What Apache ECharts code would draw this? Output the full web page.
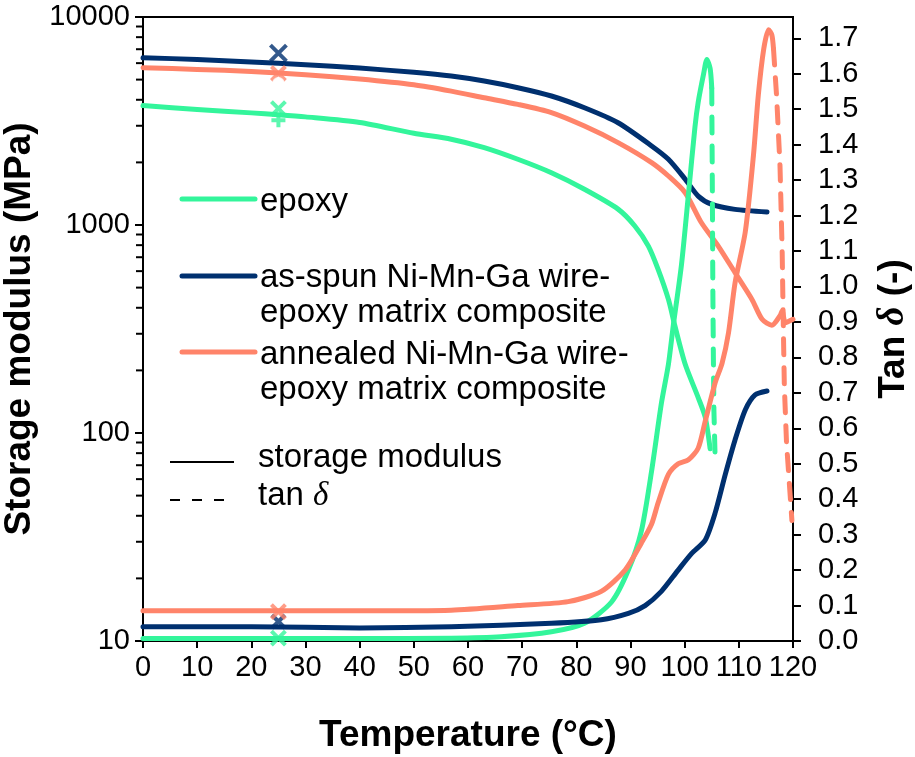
<!DOCTYPE html>
<html>
<head>
<meta charset="utf-8">
<script src="https://cdn.jsdelivr.net/npm/echarts@6/dist/echarts.min.js"></script>
<style>
  html, body { margin: 0; padding: 0; background: #fff; }
  #main { width: 915px; height: 757px; }
</style>
</head>
<body>
<div id="main"></div>
<script>
// storage modulus (MPa) vs temperature (°C)
var epoxyModulus = [[0,3750],[10,3590],[20,3460],[25,3390],[30,3310],[40,3110],[50,2760],[56.9,2585],[63,2355],[69.2,2070],[75.4,1783],[81.5,1485],[87.7,1192],[90.8,989],[93.3,792],[95.1,612],[97,439],[98.2,327],[100.1,214],[102.5,148],[103.8,119],[104.7,84]];
var asSpunModulus = [[0,6370],[10,6250],[20,6080],[30,5900],[40,5680],[50,5420],[56.9,5200],[63,4920],[69.2,4570],[75.4,4170],[81.5,3660],[87.7,3100],[93.9,2400],[97,2070],[100.1,1660],[102.5,1377],[105,1256],[109.3,1189],[115.2,1155]];
var annealedModulus = [[0,5700],[10,5600],[20,5470],[30,5280],[40,5030],[50,4720],[56.9,4400],[63,4090],[69.2,3800],[75.4,3470],[81.5,2990],[87.7,2490],[93.9,1995],[97,1720],[100.1,1430],[103.1,1025],[106.2,792],[109.3,590],[112.4,440],[114.3,352],[116.1,330],[117.6,366],[118,386],[118.6,339],[120,352]];

// tan delta, rising part (solid) and falling part (dashed)
var epoxyTan = [[0,0.007],[20,0.007],[40,0.007],[56.9,0.008],[66.1,0.012],[75.4,0.026],[81.5,0.05],[86.5,0.11],[89.6,0.2],[92,0.31],[93.9,0.48],[95.7,0.67],[97,0.78],[97.9,0.89],[99.4,1.06],[100.7,1.26],[101.9,1.45],[102.5,1.52],[103.5,1.6],[104.1,1.64],[104.7,1.615],[105,1.56]];
var epoxyTanFall = [[105,1.56],[105.1,1.3],[105.2,1.0],[105.3,0.8],[105.4,0.65],[105.6,0.53]];
var asSpunTan = [[0,0.04],[20,0.04],[40,0.037],[56.9,0.04],[75.4,0.05],[84.6,0.06],[89.6,0.078],[92.7,0.1],[95.7,0.14],[98.8,0.2],[101.3,0.247],[103.8,0.285],[105.6,0.36],[107.5,0.47],[109.3,0.567],[111.2,0.652],[113,0.694],[115.2,0.705]];
var annealedTan = [[0,0.085],[20,0.085],[40,0.085],[56.9,0.087],[69.2,0.1],[78.5,0.111],[84.6,0.14],[89,0.2],[92,0.276],[93.9,0.33],[95.1,0.39],[97,0.47],[98.8,0.5],[100.7,0.511],[102.5,0.544],[103.8,0.62],[105.6,0.727],[106.9,0.783],[108.1,0.87],[109.3,1.01],[111.2,1.155],[112.7,1.37],[113.6,1.54],[114.6,1.67],[115.5,1.724],[116.1,1.709],[116.4,1.67]];
var annealedTanFall = [[116.4,1.67],[117,1.53],[117.6,1.34],[118,1.1],[118.2,0.9],[118.4,0.72],[118.8,0.56],[119.3,0.45],[119.8,0.34]];

// single measurements at 25 °C
var epoxyPoints25 = [[25,3630]];
var epoxyPlus25 = [[25,3190]];
var asSpunPoints25 = [[25,6700]];
var annealedPoints25 = [[25,5350]];
var annealedCircle25 = [[25,4790]];
var epoxyTan25 = [[25,0.008]];
var asSpunTan25 = [[25,0.055]];
var annealedTan25 = [[25,0.083]];

// left axis minor ticks
var minorTickValues = [20,30,40,50,60,70,80,90,200,300,400,500,600,700,800,900,2000,3000,4000,5000,6000,7000,8000,9000];

var GREEN = '#33F59B', NAVY = '#00306F', ORANGE = '#FF846A';
var CROSS = 'path://M0,0L10,10M10,0L0,10';
var PLUS = 'path://M5,0L5,10M0,5L10,5';

var chart = echarts.init(document.getElementById('main'));

function curve(data, color, yIdx, dashed) {
    return {
        type: 'line', data: data, yAxisIndex: yIdx, showSymbol: false,
        smooth: dashed ? false : 0.25, silent: true,
        lineStyle: { color: color, width: 5, type: dashed ? [16, 13] : 'solid', cap: 'round', join: 'round' }
    };
}
function marks(data, color, yIdx, symbol, size) {
    return {
        type: 'scatter', data: data, yAxisIndex: yIdx, symbol: symbol, symbolSize: size, silent: true, z: 5,
        itemStyle: { color: symbol === 'emptyCircle' ? '#fff' : 'rgba(0,0,0,0)', borderColor: color, borderWidth: 4 }
    };
}

var axisCommon = {
    axisLine: { show: true, lineStyle: { color: '#000', width: 2 } },
    axisTick: { show: true, inside: false, length: 8, lineStyle: { color: '#000', width: 2 } },
    axisLabel: { color: '#000', fontSize: 29, fontFamily: 'Liberation Sans' },
    splitLine: { show: false }
};
var titleStyle = { color: '#000', fontSize: 37, fontWeight: 'bold', fontFamily: 'Liberation Sans' };

var legendFont = '33px "Liberation Sans"';
var option = {
    animation: false,
    grid: { left: 143, right: 122, top: 17, bottom: 116, containLabel: false, outerBoundsMode: 'none', show: true, borderColor: '#000', borderWidth: 2, backgroundColor: 'transparent' },
    xAxis: Object.assign({}, axisCommon, {
        type: 'value', min: 0, max: 120, interval: 10,
        axisTick: { show: true, length: 7, lineStyle: { color: '#000', width: 2 } },
        axisLabel: { color: '#000', fontSize: 29, fontFamily: 'Liberation Sans', margin: 12 },
        name: 'Temperature (°C)', nameLocation: 'middle', nameGap: 76,
        nameTextStyle: titleStyle
    }),
    yAxis: [
        Object.assign({}, axisCommon, {
            type: 'log', logBase: 10, min: 10, max: 10000, position: 'left',
            axisLabel: { color: '#000', fontSize: 29, fontFamily: 'Liberation Sans', margin: 13, formatter: function (v) { return String(Math.round(v)); } },
            name: 'Storage modulus (MPa)', nameLocation: 'middle', nameGap: 97,
            nameTextStyle: titleStyle
        }),
        Object.assign({}, axisCommon, {
            type: 'value', min: 0, max: 1.76, interval: 0.1, position: 'right',
            axisLabel: { color: '#000', fontSize: 29, fontFamily: 'Liberation Sans', margin: 25, showMaxLabel: false, formatter: function (v) { return v.toFixed(1); } },
            name: '{a|Tan }{d|δ}{a| (-)}', nameLocation: 'middle', nameGap: 82,
            nameTextStyle: {
                rich: {
                    a: titleStyle,
                    d: { color: '#000', fontSize: 37, fontWeight: 'bold', fontStyle: 'italic', fontFamily: 'Liberation Serif' }
                }
            }
        })
    ],
    graphic: [
        { type: 'line', shape: { x1: 182, y1: 199, x2: 255, y2: 199 }, style: { stroke: GREEN, lineWidth: 5, lineCap: 'round' } },
        { type: 'text', x: 260, y: 202, style: { text: 'epoxy', font: legendFont, fill: '#000', verticalAlign: 'middle' } },
        { type: 'line', shape: { x1: 182, y1: 276, x2: 255, y2: 276 }, style: { stroke: NAVY, lineWidth: 5, lineCap: 'round' } },
        { type: 'text', x: 260, y: 278, style: { text: 'as-spun Ni-Mn-Ga wire-', font: legendFont, fill: '#000', verticalAlign: 'middle' } },
        { type: 'text', x: 260, y: 313, style: { text: 'epoxy matrix composite', font: legendFont, fill: '#000', verticalAlign: 'middle' } },
        { type: 'line', shape: { x1: 182, y1: 352, x2: 255, y2: 352 }, style: { stroke: ORANGE, lineWidth: 5, lineCap: 'round' } },
        { type: 'text', x: 260, y: 355, style: { text: 'annealed Ni-Mn-Ga wire-', font: legendFont, fill: '#000', verticalAlign: 'middle' } },
        { type: 'text', x: 260, y: 390, style: { text: 'epoxy matrix composite', font: legendFont, fill: '#000', verticalAlign: 'middle' } },
        { type: 'line', shape: { x1: 170, y1: 462, x2: 234, y2: 462 }, style: { stroke: '#000', lineWidth: 2 } },
        { type: 'text', x: 258, y: 458, style: { text: 'storage modulus', font: legendFont, fill: '#000', verticalAlign: 'middle' } },
        { type: 'line', shape: { x1: 170, y1: 500, x2: 234, y2: 500 }, style: { stroke: '#000', lineWidth: 2, lineDash: [10, 12] } },
        { type: 'text', x: 258, y: 496, style: {
            text: '{a|tan }{d|δ}', verticalAlign: 'middle',
            rich: {
                a: { fontSize: 33, fontFamily: 'Liberation Sans', fill: '#000' },
                d: { fontSize: 33, fontFamily: 'Liberation Serif', fontStyle: 'italic', fill: '#000' }
            }
        } }
    ],
    series: [
        curve(epoxyModulus, GREEN, 0),
        curve(annealedModulus, ORANGE, 0),
        curve(asSpunModulus, NAVY, 0),
        curve(epoxyTan, GREEN, 1),
        curve(epoxyTanFall, GREEN, 1, true),
        curve(annealedTan, ORANGE, 1),
        curve(annealedTanFall, ORANGE, 1, true),
        curve(asSpunTan, NAVY, 1),
        marks(asSpunPoints25, NAVY, 0, CROSS, 16),
        marks(annealedPoints25, ORANGE, 0, CROSS, 14),
        marks(annealedCircle25, ORANGE, 0, 'emptyCircle', 11),
        marks(epoxyPoints25, GREEN, 0, CROSS, 14),
        marks(epoxyPlus25, GREEN, 0, PLUS, 14),
        marks(asSpunTan25, NAVY, 1, CROSS, 13),
        marks(annealedTan25, ORANGE, 1, CROSS, 14),
        marks(epoxyTan25, GREEN, 1, CROSS, 14),
        {
            type: 'custom', yAxisIndex: 0, silent: true, clip: false,
            data: minorTickValues.map(function (v) { return [0, v]; }),
            renderItem: function (params, api) {
                var p = api.coord([0, api.value(1)]);
                return { type: 'line', shape: { x1: p[0] - 7, y1: p[1], x2: p[0], y2: p[1] }, style: { stroke: '#000', lineWidth: 2 } };
            }
        }
    ]
};
chart.setOption(option);
</script>
</body>
</html>
